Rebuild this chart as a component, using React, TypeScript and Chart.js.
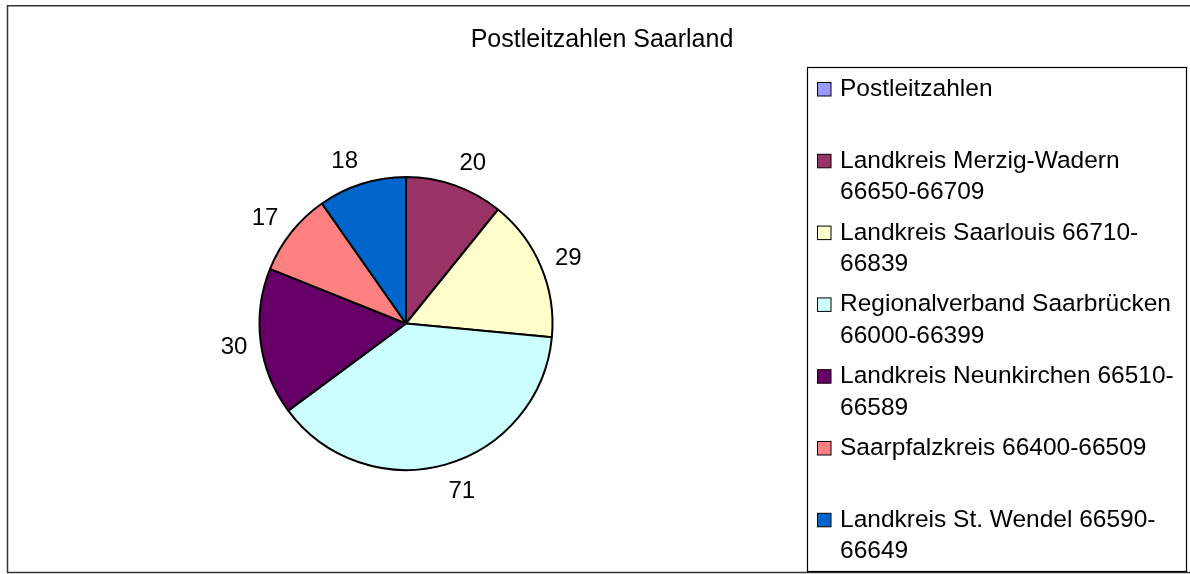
import React, { useEffect, useRef } from "react";
import { Chart, registerables } from "chart.js";

Chart.register(...registerables);

const TITLE = "Postleitzahlen Saarland";
const categories: string[][] = [
  ["Postleitzahlen"],
  ["Landkreis Merzig-Wadern", "66650-66709"],
  ["Landkreis Saarlouis 66710-", "66839"],
  ["Regionalverband Saarbrücken", "66000-66399"],
  ["Landkreis Neunkirchen 66510-", "66589"],
  ["Saarpfalzkreis 66400-66509"],
  ["Landkreis St. Wendel 66590-", "66649"],
];
const values = [0, 20, 29, 71, 30, 17, 18];
const colors = ["#9999FF", "#993366", "#FFFFCC", "#CCFFFF", "#660066", "#FF8080", "#0066CC"];

const FONT = '"Liberation Sans", Arial, Helvetica, sans-serif';

const framePlugin = {
  id: "frame",
  beforeDraw(chart: any) {
    const ctx = chart.ctx;
    ctx.save();
    ctx.fillStyle = "#ffffff";
    ctx.fillRect(0, 0, chart.width, chart.height);
    ctx.restore();
  },
  afterDatasetsDraw(chart: any) {
    const ctx = chart.ctx;
    const meta = chart.getDatasetMeta(0);
    const data = chart.data.datasets[0].data as number[];
    ctx.save();
    ctx.fillStyle = "#000";
    ctx.font = `24px ${FONT}`;
    ctx.textAlign = "center";
    ctx.textBaseline = "alphabetic";
    meta.data.forEach((arc: any, i: number) => {
      if (!data[i]) return;
      const p = arc.getProps(["x", "y", "startAngle", "endAngle", "outerRadius"], true);
      const mid = (p.startAngle + p.endAngle) / 2;
      const R = p.outerRadius + 25.5;
      const c = Math.cos(mid);
      const s = Math.sin(mid);
      const lx = p.x + R * c + Math.sign(c) * 10 * Math.abs(s);
      const ly = p.y + R * s;
      ctx.fillText(String(data[i]), lx, ly + 24 * 0.358);
    });
    ctx.restore();
  },
  afterDraw(chart: any) {
    const ctx = chart.ctx;
    ctx.save();
    // outer chart border
    ctx.strokeStyle = "#333333";
    ctx.lineWidth = 1.5;
    ctx.strokeRect(7.5, 5.75, 1190, 566.75);

    // title
    ctx.fillStyle = "#000";
    ctx.font = `25px ${FONT}`;
    ctx.textAlign = "center";
    ctx.textBaseline = "alphabetic";
    ctx.fillText(TITLE, 602, 46.7);

    // legend box
    ctx.strokeStyle = "#000";
    ctx.lineWidth = 1.2;
    ctx.strokeRect(807.5, 67.5, 379, 504);

    // legend entries
    const labels = chart.data.labels as string[][];
    const bg = chart.data.datasets[0].backgroundColor as string[];
    ctx.font = `24.5px ${FONT}`;
    ctx.textAlign = "left";
    labels.forEach((lines, i) => {
      const base = 96 + i * 71.8;
      ctx.fillStyle = bg[i];
      ctx.fillRect(817.5, base - 13.5, 13.5, 13.5);
      ctx.strokeStyle = "#000";
      ctx.lineWidth = 1;
      ctx.strokeRect(817.5, base - 13.5, 13.5, 13.5);
      ctx.fillStyle = "#000";
      lines.forEach((t, j) => ctx.fillText(t, 840, base + j * 31.6));
    });
    ctx.restore();
  },
};

export default function App() {
  const ref = useRef<HTMLCanvasElement | null>(null);
  useEffect(() => {
    if (!ref.current) return;
    const chart = new Chart(ref.current, {
      type: "pie",
      data: {
        labels: categories,
        datasets: [
          {
            data: values,
            backgroundColor: colors,
            borderColor: "#000000",
            borderWidth: 2,
            hoverBorderWidth: 2,
            offset: 0,
            hoverOffset: 0,
          },
        ],
      },
      options: {
        responsive: false,
        devicePixelRatio: 1,
        animation: false,
        layout: { padding: { left: 258.5, top: 176, right: 636.5, bottom: 103 } },
        plugins: {
          legend: { display: false },
          title: { display: false },
          tooltip: { enabled: false },
        },
        events: [],
      },
      plugins: [framePlugin],
    } as any);
    return () => chart.destroy();
  }, []);
  return (
    <div style={{ position: "fixed", left: 0, top: 0, width: 1190, height: 574, background: "#fff" }}>
      <canvas ref={ref} width={1190} height={574} style={{ display: "block", width: 1190, height: 574 }} />
    </div>
  );
}
